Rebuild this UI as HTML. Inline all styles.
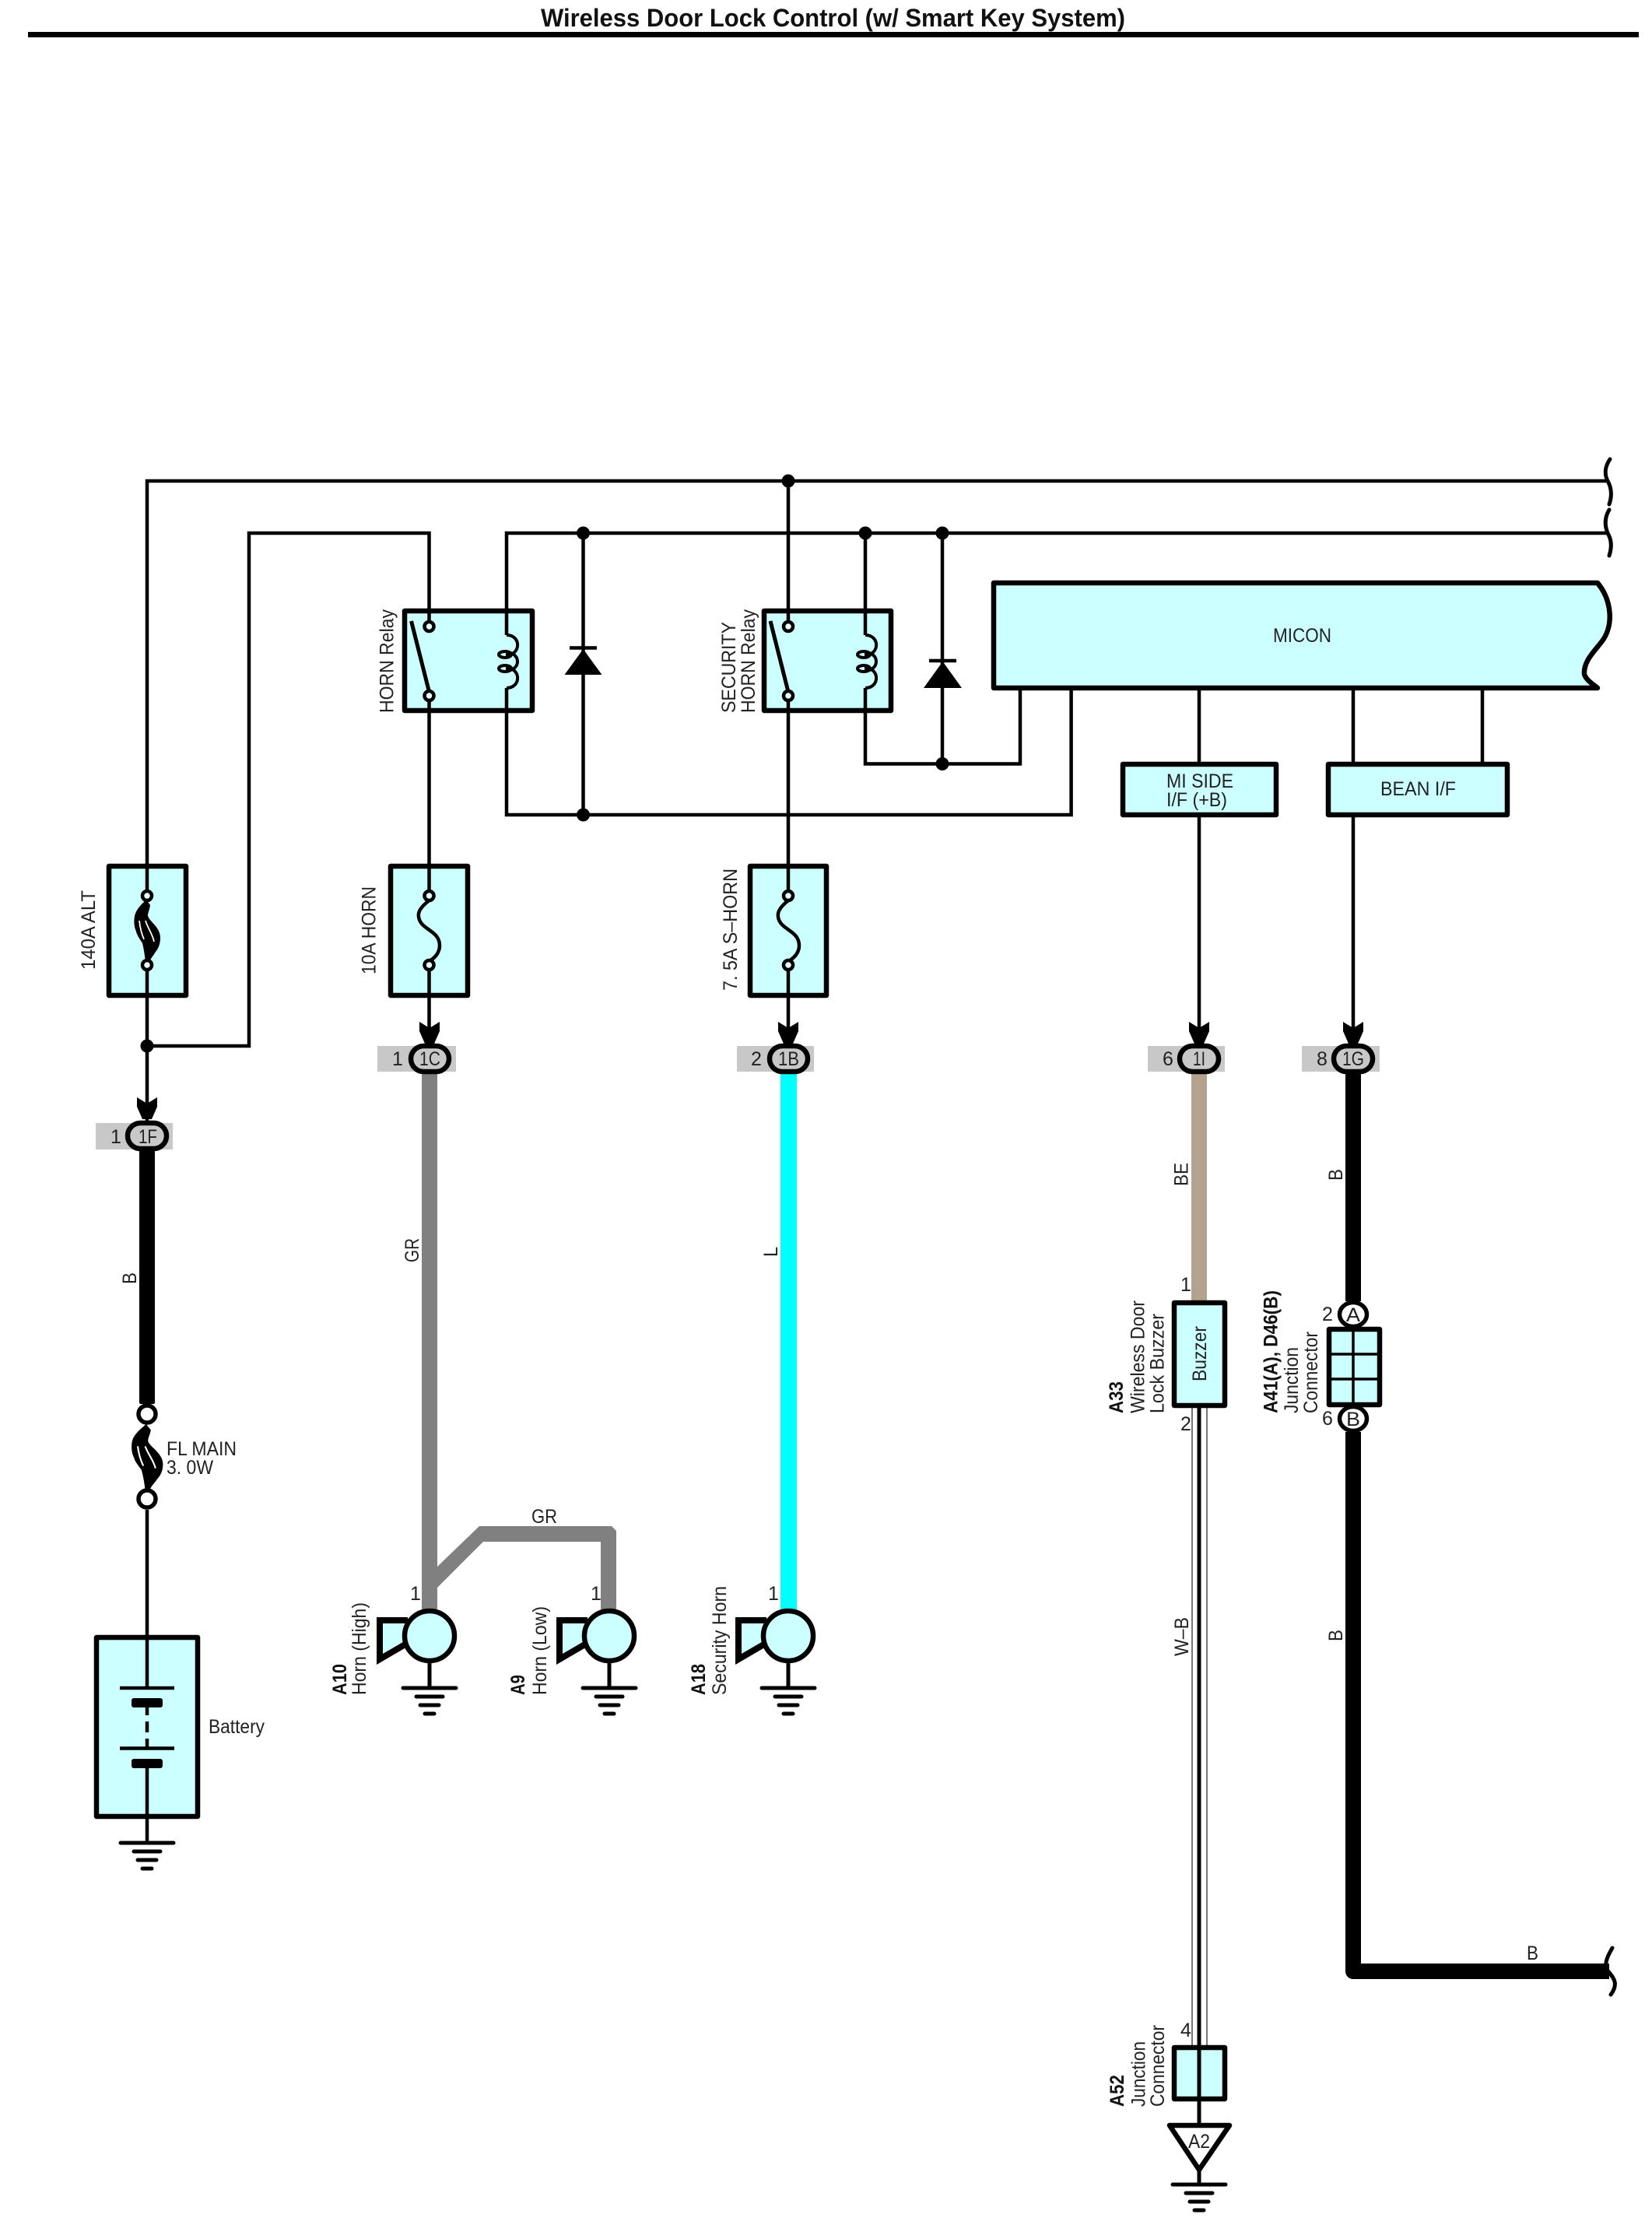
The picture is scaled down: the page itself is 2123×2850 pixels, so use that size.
<!DOCTYPE html>
<html><head><meta charset="utf-8"><title>Wireless Door Lock Control</title>
<style>
html,body{margin:0;padding:0;background:#fff}
svg{display:block}
text{font-family:"Liberation Sans",sans-serif;font-size:25px;fill:#222}
.b{font-weight:bold;fill:#111}
.w{fill:none;stroke:#000;stroke-width:4.5}
.box{fill:#ccffff;stroke:#000;stroke-width:6.5;stroke-linejoin:round}
.c{fill:#e6ffff;stroke:#000;stroke-width:4.5}
.g{fill:#c8c8c8}
.o{fill:#c8c8c8;stroke:#000;stroke-width:6.5}
</style></head><body>
<svg xmlns="http://www.w3.org/2000/svg" width="2123" height="2850" viewBox="0 0 2123 2850">
<defs>
<g id="gnd" fill="none" stroke="#000" stroke-linecap="round">
<path d="M-34 0H34" stroke-width="5"/><path d="M-17 11H17" stroke-width="5"/><path d="M-12 22H12" stroke-width="5"/><path d="M-6 33H6" stroke-width="5"/>
</g>
<g id="horn">
<path d="M-28 -20H-64V30L-28 9" fill="#ccffff" stroke="#000" stroke-width="8"/>
<circle r="32" fill="#ccffff" stroke="#000" stroke-width="6.5"/>
<path d="M0 34V67" stroke="#000" stroke-width="5"/>
<use href="#gnd" y="67"/>
</g>
<polygon id="arr" points="-13,-30 0,-22 13,-30 13,-18 6,-2 -6,-2 -13,-18"/>
<g id="bigfuse">
<path d="M188 1156L193 1163C192 1170 190 1172 190 1177C192 1182 196 1185 200 1190C204 1195 206 1200 206 1205C206 1212 204 1218 200 1223C197 1228 194 1231 192 1236L187 1236C186 1228 185 1220 183 1212C180 1207 176 1202 175 1197C172 1190 172 1183 173 1177C175 1168 182 1162 188 1156Z" fill="#000"/>
<path d="M179 1183C180 1192 182 1200 185 1207" fill="none" stroke="#fff" stroke-width="1.8"/>
<path d="M187 1183C190 1193 196 1200 198 1210" fill="none" stroke="#fff" stroke-width="1.8"/>
</g>
</defs>

<!-- title -->
<text x="695" y="34" class="b" style="font-size:32px" textLength="751" lengthAdjust="spacingAndGlyphs">Wireless Door Lock Control (w/ Smart Key System)</text>
<rect x="36" y="41" width="2070" height="7" fill="#000"/>

<!-- boxes -->
<rect class="box" x="140" y="1113" width="99" height="166"/>
<rect class="box" x="502" y="1113" width="99" height="166"/>
<rect class="box" x="964" y="1113" width="98" height="166"/>
<rect class="box" x="520" y="785" width="164" height="128"/>
<rect class="box" x="982" y="785" width="163" height="128"/>
<rect class="box" x="124" y="2104" width="130" height="230"/>

<!-- main thin wires -->
<g class="w">
<path d="M189 1151V618H2066"/>
<path d="M189 1240V1440"/>
<path d="M189 1344H320V685H551.5V799"/>
<path d="M551.5 900V1151"/>
<path d="M551.5 1240V1340"/>
<path d="M651 816V685H2066"/>
<path d="M651 884V1047H1376.6V884"/>
<path d="M749.5 685V1047"/>
<path d="M1013 618V799"/>
<path d="M1013 900V1151"/>
<path d="M1013 1240V1340"/>
<path d="M1112 816V685"/>
<path d="M1112 884V981.5H1311V884"/>
<path d="M1211 685V981.5"/>
<path d="M1541 884V981"/><path d="M1541 1048V1340"/>
<path d="M1739 884V981"/><path d="M1739 1048V1340"/>
<path d="M1905 884V981"/>
<path d="M189 1940V2169"/>
<path d="M189 2194V2204M189 2212V2226M189 2234V2246"/>
<path d="M189 2272V2368"/>
</g>

<!-- junction dots -->
<g fill="#000">
<circle cx="189" cy="1344" r="8.5"/><circle cx="749.5" cy="685" r="8.5"/><circle cx="749.5" cy="1047" r="8.5"/>
<circle cx="1013" cy="618" r="8.5"/><circle cx="1112" cy="685" r="8.5"/><circle cx="1211" cy="685" r="8.5"/><circle cx="1211" cy="981.5" r="8.5"/>
</g>

<!-- diodes -->
<path d="M732 832.5H767" stroke="#000" stroke-width="4.5"/><polygon points="749.5,834 773.5,867 725.5,867" fill="#000"/>
<path d="M1194 849H1229" stroke="#000" stroke-width="4.5"/><polygon points="1211.5,850 1236,884 1187,884" fill="#000"/>

<!-- relays -->
<g id="r1">
<path d="M528.5 798L551.5 889" stroke="#000" stroke-width="5" fill="none"/>
<circle class="c" cx="551.5" cy="805" r="6"/><circle class="c" cx="551.5" cy="894" r="6"/>
<path d="M651 816C670 816 670 842 650 842M650 838C670 838 670 862 650 862M650 858C670 858 670 884 651 884" class="w" style="stroke-width:4"/>
<ellipse cx="649" cy="841" rx="8" ry="4" class="w" style="stroke-width:4"/><ellipse cx="649" cy="859" rx="8" ry="4" class="w" style="stroke-width:4"/>
</g>
<g>
<path d="M990 798L1013 889" stroke="#000" stroke-width="5" fill="none"/>
<circle class="c" cx="1013" cy="805" r="6"/><circle class="c" cx="1013" cy="894" r="6"/>
<path d="M1112 816C1131 816 1131 842 1111 842M1111 838C1131 838 1131 862 1111 862M1111 858C1131 858 1131 884 1112 884" class="w" style="stroke-width:4"/>
<ellipse cx="1110" cy="841" rx="8" ry="4" class="w" style="stroke-width:4"/><ellipse cx="1110" cy="859" rx="8" ry="4" class="w" style="stroke-width:4"/>
</g>

<!-- fuses -->
<use href="#bigfuse"/>
<circle class="c" cx="189" cy="1151" r="6"/><circle class="c" cx="189" cy="1240" r="6"/>
<path class="w" d="M551.5 1157C540 1166 537 1172 538 1178C540 1195 565 1195 565 1215C565 1222 561 1230 551.5 1235"/>
<circle class="c" cx="551.5" cy="1151" r="6"/><circle class="c" cx="551.5" cy="1240" r="6"/>
<path class="w" d="M1013 1157C1002 1166 999 1172 1000 1178C1002 1195 1027 1195 1027 1215C1027 1222 1023 1230 1013 1235"/>
<circle class="c" cx="1013" cy="1151" r="6"/><circle class="c" cx="1013" cy="1240" r="6"/>

<!-- MICON -->
<path class="box" d="M1277 749H2053C2072 772 2074 805 2058 825C2048 838 2035 850 2036 866C2037 872 2045 878 2053 884H1277Z"/>
<rect class="box" x="1443" y="982" width="197" height="65"/>
<rect class="box" x="1707" y="982" width="230" height="65"/>

<!-- wave breaks -->
<g fill="none" stroke="#000" stroke-width="5" stroke-linecap="round">
<path d="M2069 590C2062 600 2062 610 2066 618C2072 628 2071 640 2068 648"/>
<path d="M2068 655C2062 665 2062 675 2066 685C2072 695 2071 705 2068 714"/>
<path d="M2072 2503C2063 2518 2062 2526 2066 2532C2073 2541 2081 2548 2070 2563"/>
</g>

<!-- coloured wires -->
<rect x="179" y="1478" width="20" height="326" fill="#000" rx="2"/>
<rect x="542" y="1379" width="20" height="690" fill="#808080"/>
<polygon points="562,2013 616,1961 786,1961 792,1967 792,2069 772,2069 772,1981 621,1981 562,2040" fill="#808080"/>
<rect x="1003" y="1379" width="21" height="690" fill="#00ffff"/>
<rect x="1531" y="1379" width="20" height="293" fill="#b5a28c"/>
<path d="M1739 1379V1672" stroke="#000" stroke-width="20"/>
<path d="M1739 1840V2533H2068" stroke="#000" stroke-width="20" fill="none" stroke-linejoin="round"/>
<rect x="1532" y="1808" width="19" height="822" fill="#fff" stroke="#777" stroke-width="2"/>
<rect x="1538.5" y="1808" width="5" height="822" fill="#000"/>

<!-- connector tags -->
<rect class="g" x="123" y="1443" width="99" height="34"/>
<rect class="g" x="485" y="1344" width="101" height="33"/>
<rect class="g" x="947" y="1344" width="99" height="33"/>
<rect class="g" x="1475" y="1344" width="99" height="33"/>
<rect class="g" x="1673" y="1344" width="100" height="33"/>
<use href="#arr" x="189" y="1440"/><use href="#arr" x="552" y="1343"/><use href="#arr" x="1013" y="1343"/><use href="#arr" x="1541" y="1343"/><use href="#arr" x="1739" y="1343"/>
<rect class="o" x="164" y="1443" width="50" height="33" rx="16.5"/>
<rect class="o" x="528" y="1344" width="49" height="33" rx="16.5"/>
<rect class="o" x="989" y="1344" width="49" height="33" rx="16.5"/>
<rect class="o" x="1516" y="1344" width="50" height="33" rx="16.5"/>
<rect class="o" x="1714" y="1344" width="50" height="33" rx="16.5"/>
<text x="142" y="1469">1</text>
<text x="178" y="1469" textLength="24" lengthAdjust="spacingAndGlyphs">1F</text>
<text x="504" y="1369">1</text>
<text x="539" y="1369" textLength="27" lengthAdjust="spacingAndGlyphs">1C</text>
<text x="965" y="1369">2</text>
<text x="1000" y="1369" textLength="27" lengthAdjust="spacingAndGlyphs">1B</text>
<text x="1494" y="1369">6</text>
<text x="1533" y="1369" textLength="16" lengthAdjust="spacingAndGlyphs">1I</text>
<text x="1692" y="1369">8</text>
<text x="1725" y="1369" textLength="28" lengthAdjust="spacingAndGlyphs">1G</text>

<!-- FL main -->
<g transform="translate(189,1830) scale(1.2,1.05) translate(-189,-1156)"><use href="#bigfuse"/></g>
<circle cx="189" cy="1817" r="11" fill="#fff" stroke="#000" stroke-width="5.5"/>
<circle cx="189" cy="1926" r="11" fill="#fff" stroke="#000" stroke-width="5.5"/>

<!-- battery -->
<path d="M154 2169H224M154 2246.5H224" stroke="#000" stroke-width="4.5"/>
<rect x="169" y="2182" width="40" height="12" rx="3" fill="#000"/>
<rect x="169" y="2260" width="40" height="12" rx="3" fill="#000"/>
<use href="#gnd" x="189" y="2368"/>

<!-- horns -->
<use href="#horn" x="552" y="2102"/>
<use href="#horn" x="783" y="2102"/>
<use href="#horn" x="1013" y="2102"/>

<!-- buzzer -->
<rect class="box" x="1509" y="1674" width="65" height="132"/>
<!-- junction block -->
<rect class="box" x="1708" y="1708" width="65" height="97"/>
<path d="M1739 1708V1805M1708 1740H1773M1708 1772H1773" stroke="#000" stroke-width="3.5"/>
<ellipse cx="1739" cy="1689" rx="17.5" ry="15.5" fill="#fff" stroke="#000" stroke-width="5.5"/>
<ellipse cx="1739" cy="1823" rx="17.5" ry="15.5" fill="#fff" stroke="#000" stroke-width="5.5"/>
<text x="1730" y="1698" textLength="18" lengthAdjust="spacingAndGlyphs">A</text>
<text x="1730" y="1832" textLength="18" lengthAdjust="spacingAndGlyphs">B</text>

<!-- A52 -->
<rect class="box" x="1509" y="2631" width="65" height="66"/>
<path d="M1541 2628V2731" stroke="#000" stroke-width="5"/>
<path d="M1503 2731H1580L1541 2788Z" fill="#fff" stroke="#000" stroke-width="6.5" stroke-linejoin="round"/>
<path d="M1541 2788V2807" stroke="#000" stroke-width="5"/>
<use href="#gnd" x="1541" y="2807"/>
<text x="1527" y="2760" textLength="28" lengthAdjust="spacingAndGlyphs">A2</text>

<!-- horizontal labels -->
<text x="1636" y="825" textLength="75" lengthAdjust="spacingAndGlyphs">MICON</text>
<text x="1499" y="1012" textLength="86" lengthAdjust="spacingAndGlyphs">MI SIDE</text>
<text x="1499" y="1036" textLength="78" lengthAdjust="spacingAndGlyphs">I/F (+B)</text>
<text x="1774" y="1022" textLength="97" lengthAdjust="spacingAndGlyphs">BEAN I/F</text>
<text x="268" y="2227" textLength="72" lengthAdjust="spacingAndGlyphs">Battery</text>
<text x="214" y="1870" textLength="90" lengthAdjust="spacingAndGlyphs">FL MAIN</text>
<text x="214" y="1894" textLength="60" lengthAdjust="spacingAndGlyphs">3. 0W</text>
<text x="683" y="1957" textLength="33" lengthAdjust="spacingAndGlyphs">GR</text>
<text x="527" y="2056">1</text>
<text x="759" y="2056">1</text>
<text x="987" y="2056">1</text>
<text x="1517" y="1659">1</text>
<text x="1517" y="1838">2</text>
<text x="1517" y="2617">4</text>
<text x="1699" y="1697">2</text>
<text x="1699" y="1831">6</text>
<text x="1962" y="2518" textLength="15" lengthAdjust="spacingAndGlyphs">B</text>

<!-- rotated labels -->
<text transform="translate(122,1246) rotate(-90)" textLength="102" lengthAdjust="spacingAndGlyphs">140A ALT</text>
<text transform="translate(482.6,1252) rotate(-90)" textLength="113" lengthAdjust="spacingAndGlyphs">10A HORN</text>
<text transform="translate(947,1273) rotate(-90)" textLength="157" lengthAdjust="spacingAndGlyphs">7. 5A S–HORN</text>
<text transform="translate(505.6,916) rotate(-90)" textLength="133" lengthAdjust="spacingAndGlyphs">HORN Relay</text>
<text transform="translate(945,916) rotate(-90)" textLength="117" lengthAdjust="spacingAndGlyphs">SECURITY</text>
<text transform="translate(970,916) rotate(-90)" textLength="133" lengthAdjust="spacingAndGlyphs">HORN Relay</text>
<text transform="translate(175,1650) rotate(-90)" textLength="15" lengthAdjust="spacingAndGlyphs">B</text>
<text transform="translate(538,1622) rotate(-90)" textLength="31" lengthAdjust="spacingAndGlyphs">GR</text>
<text transform="translate(999,1615) rotate(-90)" textLength="13" lengthAdjust="spacingAndGlyphs">L</text>
<text transform="translate(1526.7,1524) rotate(-90)" textLength="30" lengthAdjust="spacingAndGlyphs">BE</text>
<text transform="translate(1725,1517) rotate(-90)" textLength="15" lengthAdjust="spacingAndGlyphs">B</text>
<text transform="translate(1725,2109) rotate(-90)" textLength="15" lengthAdjust="spacingAndGlyphs">B</text>
<text transform="translate(1527,2128) rotate(-90)" textLength="50" lengthAdjust="spacingAndGlyphs">W–B</text>
<text transform="translate(1550,1775) rotate(-90)" textLength="71" lengthAdjust="spacingAndGlyphs">Buzzer</text>

<text class="b" transform="translate(445,2178) rotate(-90)" textLength="40" lengthAdjust="spacingAndGlyphs">A10</text>
<text transform="translate(470,2178) rotate(-90)" textLength="119" lengthAdjust="spacingAndGlyphs">Horn (High)</text>
<text class="b" transform="translate(674,2178) rotate(-90)" textLength="26" lengthAdjust="spacingAndGlyphs">A9</text>
<text transform="translate(702,2178) rotate(-90)" textLength="114" lengthAdjust="spacingAndGlyphs">Horn (Low)</text>
<text class="b" transform="translate(906,2178) rotate(-90)" textLength="40" lengthAdjust="spacingAndGlyphs">A18</text>
<text transform="translate(933,2178) rotate(-90)" textLength="140" lengthAdjust="spacingAndGlyphs">Security Horn</text>

<text class="b" transform="translate(1443,1816) rotate(-90)" textLength="41" lengthAdjust="spacingAndGlyphs">A33</text>
<text transform="translate(1470.7,1816) rotate(-90)" textLength="145" lengthAdjust="spacingAndGlyphs">Wireless Door</text>
<text transform="translate(1495.7,1816) rotate(-90)" textLength="128" lengthAdjust="spacingAndGlyphs">Lock Buzzer</text>
<text class="b" transform="translate(1641.7,1816) rotate(-90)" textLength="158" lengthAdjust="spacingAndGlyphs">A41(A), D46(B)</text>
<text transform="translate(1668,1816) rotate(-90)" textLength="85" lengthAdjust="spacingAndGlyphs">Junction</text>
<text transform="translate(1693,1816) rotate(-90)" textLength="105" lengthAdjust="spacingAndGlyphs">Connector</text>
<text class="b" transform="translate(1444,2707) rotate(-90)" textLength="41" lengthAdjust="spacingAndGlyphs">A52</text>
<text transform="translate(1471.4,2707) rotate(-90)" textLength="84" lengthAdjust="spacingAndGlyphs">Junction</text>
<text transform="translate(1496,2707) rotate(-90)" textLength="105" lengthAdjust="spacingAndGlyphs">Connector</text>
</svg>
</body></html>
